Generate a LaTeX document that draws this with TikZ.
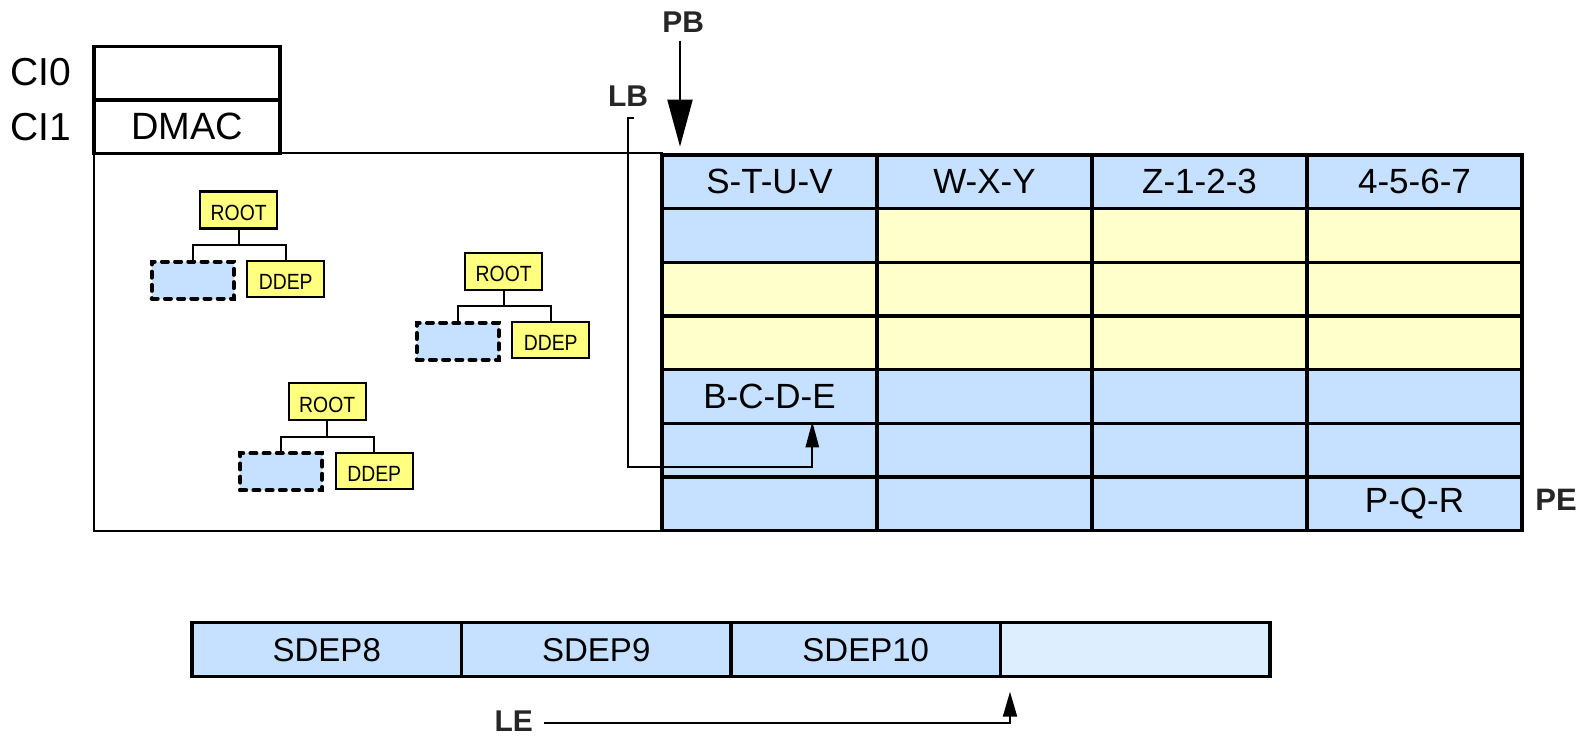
\documentclass[tikz,border=0pt]{standalone}
\usepackage{fontspec}
\setmainfont{Liberation Sans}
\newfontfamily\narrowsans[FakeStretch=0.88]{Liberation Sans}
\usetikzlibrary{arrows.meta}
\definecolor{cellblue}{HTML}{C6E0FF}
\definecolor{cellyellow}{HTML}{FFFFCC}
\definecolor{rootyellow}{HTML}{FFFF80}
\definecolor{paleblue}{HTML}{DDEEFF}
\definecolor{labelgray}{HTML}{262626}
\tikzset{
  cell/.style={draw, line width=1.65pt, minimum width=107.5pt, minimum height=26.83pt,
    inner sep=0pt, outer sep=0pt, font=\fontsize{17.5pt}{20pt}\selectfont},
  cibox/.style={draw, line width=1.65pt, minimum width=93pt, minimum height=26.67pt,
    inner sep=0pt, outer sep=0pt, font=\fontsize{19pt}{22pt}\selectfont},
  cilabel/.style={inner sep=0pt, font=\fontsize{19.5pt}{22pt}\selectfont},
  sdepbox/.style={draw, line width=1.65pt, minimum width=134.75pt, minimum height=27pt,
    inner sep=0pt, outer sep=0pt, font=\fontsize{16.5pt}{19pt}\selectfont},
  rootbox/.style={draw, line width=1.1pt, fill=rootyellow, minimum width=38.5pt,
    minimum height=18.5pt, inner sep=0pt, outer sep=0pt,
    font=\narrowsans\fontsize{11pt}{13pt}\selectfont, text height=10.3pt, text depth=0pt},
  ddepbox/.style={rootbox, minimum height=18pt},
  holebox/.style={draw, line width=2pt, fill=cellblue, dash pattern=on 3pt off 3.6pt,
    line cap=round, minimum width=41pt, minimum height=18.5pt, inner sep=0pt, outer sep=0pt},
  treeline/.style={line width=1pt},
  marker/.style={inner sep=0pt, text=labelgray, font=\fontsize{15pt}{18pt}\selectfont\bfseries},
  thinline/.style={line width=1pt},
}
\newcommand\mytree[3]{%
  \node[rootbox] (#1r) at (#2,#3) {ROOT};
  \node[holebox] (#1h) at (#2-46,#3+70) {};
  \node[ddepbox] (#1d) at (#2+47,#3+69) {DDEP};
  \draw[treeline] (#1r.south) -- ++(0,16.5) -| (#1h.north);
  \draw[treeline] (#1r.south) -- ++(0,16.5) -| (#1d.north);
}
\begin{document}
\begin{tikzpicture}[x=0.5pt,y=-0.5pt]
\useasboundingbox (0,0) rectangle (1591,738);

% CI box
\node[cibox] (ci0) at (187,73.3) {};
\node[cibox] (ci1) at (187,126.7) {DMAC};
\node[cilabel] (ci0l) at (41,72) {CI0};
\node[cilabel] (ci1l) at (41,127) {CI1};

% grid rows
\foreach \c/\t in {0/S-T-U-V, 1/W-X-Y, 2/Z-1-2-3, 3/4-5-6-7}
  \node[cell, fill=cellblue] (g0\c) at (769.5+215*\c, 181.83) {\t};
\foreach \r/\fa/\fb in {1/cellblue/cellyellow, 2/cellyellow/cellyellow, 3/cellyellow/cellyellow, 5/cellblue/cellblue}{
  \node[cell, fill=\fa] (g\r0) at (769.5, 181.83+53.67*\r) {};
  \foreach \c in {1,2,3}
    \node[cell, fill=\fb] (g\r\c) at (769.5+215*\c, 181.83+53.67*\r) {};
}
\node[cell, fill=cellblue] (g40) at (769.5, 396.5) {B-C-D-E};
\foreach \c in {1,2,3}
  \node[cell, fill=cellblue] (g4\c) at (769.5+215*\c, 396.5) {};
\foreach \c in {0,1,2}
  \node[cell, fill=cellblue] (g6\c) at (769.5+215*\c, 503.85) {};
\node[cell, fill=cellblue] (g63) at (1414.5, 503.85) {P-Q-R};

% outer thin rectangle
\draw[thinline] (ci1.south west) rectangle (g60.south west);

% trees
\mytree{ta}{238.7}{210}
\mytree{tb}{503.7}{271.3}
\mytree{tc}{327.2}{401.7}

% markers
\node[marker] (pb) at (683.3,22.5) {PB};
\node[marker] (lb) at (628,96.2) {LB};
\node[marker, font=\fontsize{15.5pt}{18pt}\selectfont\bfseries] (pe) at (1556,500) {PE};
\node[marker] (le) at (513.7,721) {LE};

\coordinate (pbs) at (680,40.7);
\coordinate (pbt) at (680,146.7);
\draw[thinline, -{Triangle[length=23.5pt,width=12.5pt]}] (pbs) -- (pbt);

\coordinate (lbs) at (634,118.3);
\coordinate (lbt) at (812.3,421.7);
\draw[thinline, -{Triangle[length=12.85pt,width=6.65pt]}]
  (lbs) -- (628.3,118.3) -- (628.3,466.7) -- (812.3,466.7) -- (lbt);

% SDEP strip
\node[sdepbox, fill=cellblue] (s8) at (326.75,649.7) {SDEP8};
\node[sdepbox, fill=cellblue] (s9) at (596.25,649.7) {SDEP9};
\node[sdepbox, fill=cellblue] (s10) at (865.75,649.7) {SDEP10};
\node[sdepbox, fill=paleblue] (s11) at (1135.25,649.7) {};

\coordinate (let) at (1010,691.7);
\draw[thinline, -{Triangle[length=12.5pt,width=7pt]}] ([xshift=5.5pt,yshift=-1pt]le.east) -| (let);
\end{tikzpicture}
\end{document}
